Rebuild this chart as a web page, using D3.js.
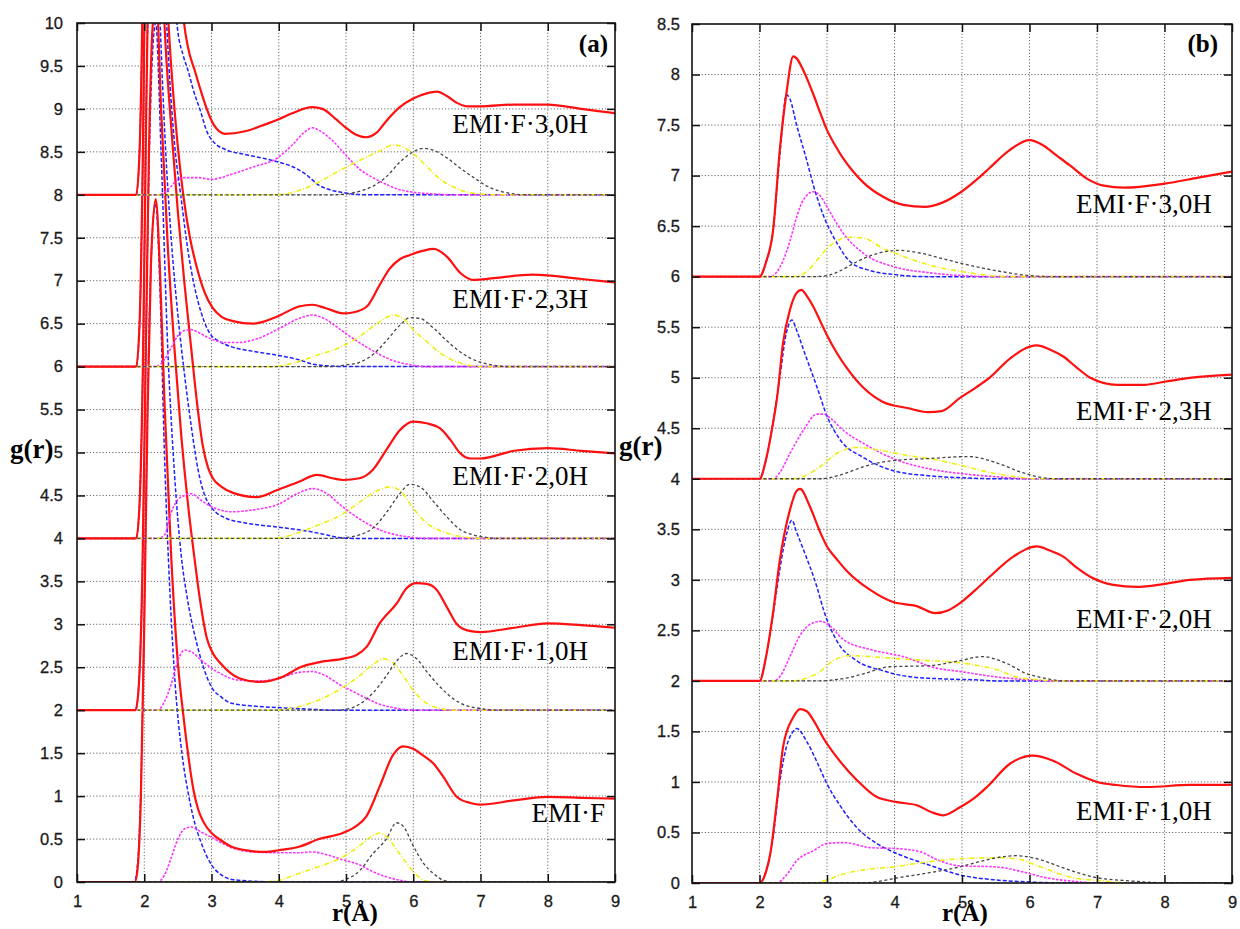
<!DOCTYPE html>
<html><head><meta charset="utf-8">
<script src="https://cdn.jsdelivr.net/npm/d3@7"></script>
<style>body{margin:0;background:#fff;}svg{display:block;}</style>
</head><body>
<svg id="c" width="1240" height="929"></svg>
<script>
// ---------------- DATA ----------------
const rTicks = [1,2,3,4,5,6,7,8,9];
const yTicksA = [0,0.5,1,1.5,2,2.5,3,3.5,4,4.5,5,5.5,6,6.5,7,7.5,8,8.5,9,9.5,10];
const yTicksB = [0,0.5,1,1.5,2,2.5,3,3.5,4,4.5,5,5.5,6,6.5,7,7.5,8,8.5];

// panel (a): index 0..4 = EMI·F, 1,0H, 2,0H, 2,3H, 3,0H
const namesA = ["EMI·F","EMI·F·1,0H","EMI·F·2,0H","EMI·F·2,3H","EMI·F·3,0H"];
const offsetsA = [0,2,4,6,8];
// panel (b): index 0..3 = 1,0H, 2,0H, 2,3H, 3,0H
const namesB = ["EMI·F·1,0H","EMI·F·2,0H","EMI·F·2,3H","EMI·F·3,0H"];
const offsetsB = [0,2,4,6];

const redA = [
 [[1,0],[1.86,0],[1.9,0.15],[1.95,1.0],[2.0,3.0],[2.05,5.5],[2.1,7.2],[2.17,7.95],[2.23,7.2],[2.3,5.6],[2.4,3.8],[2.5,2.55],[2.58,1.95],[2.65,1.5],[2.73,1.08],[2.8,0.85],[2.88,0.7],[3.0,0.57],[3.15,0.48],[3.3,0.41],[3.6,0.36],[3.8,0.35],[4.0,0.37],[4.3,0.41],[4.6,0.5],[4.95,0.57],[5.15,0.65],[5.3,0.76],[5.5,1.11],[5.7,1.48],[5.85,1.58],[6.0,1.55],[6.15,1.47],[6.3,1.38],[6.45,1.22],[6.65,0.99],[6.85,0.92],[7.0,0.9],[7.5,0.95],[8.0,0.99],[8.5,0.98],[9.0,0.97]],
 [[1,0],[1.87,0],[1.92,0.3],[1.97,1.5],[2.02,4.0],[2.07,6.5],[2.12,7.9],[2.18,8.3],[2.25,7.0],[2.35,5.4],[2.45,4.2],[2.55,3.2],[2.65,2.4],[2.75,1.75],[2.83,1.28],[2.93,0.84],[3.03,0.65],[3.13,0.55],[3.42,0.37],[3.72,0.33],[4.06,0.39],[4.32,0.5],[4.61,0.56],[4.96,0.6],[5.15,0.64],[5.31,0.74],[5.5,1.01],[5.76,1.25],[5.9,1.42],[6.05,1.48],[6.2,1.47],[6.35,1.4],[6.5,1.2],[6.65,1.0],[6.8,0.93],[7.0,0.91],[7.5,0.96],[8.0,1.01],[8.5,0.99],[9.0,0.96]],
 [[1,0],[1.88,0],[1.93,0.4],[1.98,2.0],[2.03,5.0],[2.08,7.5],[2.14,8.8],[2.2,8.2],[2.3,6.0],[2.4,4.8],[2.5,3.8],[2.6,2.95],[2.7,2.2],[2.78,1.61],[2.87,1.08],[2.95,0.82],[3.02,0.7],[3.15,0.6],[3.32,0.53],[3.67,0.48],[3.97,0.56],[4.3,0.66],[4.57,0.74],[4.8,0.7],[4.96,0.68],[5.2,0.7],[5.4,0.8],[5.6,1.03],[5.8,1.26],[6.0,1.36],[6.2,1.34],[6.4,1.28],[6.55,1.15],[6.7,0.99],[6.85,0.93],[7.0,0.93],[7.5,1.02],[8.0,1.05],[8.5,1.02],[9.0,0.99]],
 [[1,0],[1.88,0],[1.93,0.5],[1.98,2.5],[2.03,6.0],[2.08,9.0],[2.14,10.3],[2.2,9.6],[2.3,5.0],[2.36,4.0],[2.46,2.9],[2.58,2.0],[2.68,1.5],[2.78,1.16],[2.9,0.86],[3.02,0.68],[3.15,0.58],[3.32,0.53],[3.62,0.5],[3.97,0.58],[4.3,0.7],[4.5,0.72],[4.7,0.68],[4.96,0.62],[5.1,0.63],[5.31,0.7],[5.5,0.95],[5.65,1.14],[5.8,1.25],[5.95,1.3],[6.15,1.35],[6.3,1.37],[6.5,1.28],[6.7,1.09],[6.89,1.01],[7.2,1.03],[7.78,1.07],[8.5,1.02],[9.0,0.98]],
 [[1,0],[1.88,0],[1.93,0.5],[1.98,2.5],[2.03,6.0],[2.08,9.5],[2.15,11.5],[2.25,10.5],[2.35,7.0],[2.45,4.2],[2.52,2.9],[2.58,2.1],[2.65,1.72],[2.75,1.45],[2.83,1.24],[2.93,1.0],[3.03,0.82],[3.2,0.71],[3.5,0.74],[3.8,0.82],[4.0,0.88],[4.2,0.95],[4.5,1.02],[4.65,1.0],[4.85,0.88],[5.0,0.78],[5.15,0.7],[5.3,0.67],[5.45,0.72],[5.6,0.86],[5.8,1.02],[6.0,1.12],[6.2,1.18],[6.35,1.2],[6.5,1.15],[6.65,1.07],[6.8,1.03],[7.0,1.03],[7.5,1.05],[8.0,1.05],[8.5,1.0],[9.0,0.95]]
];
const blueA = [
 [[1,0],[1.85,0],[1.9,0.2],[1.95,1.1],[2.0,3.1],[2.05,5.6],[2.1,7.2],[2.17,7.9],[2.23,7.0],[2.3,5.0],[2.38,3.4],[2.46,2.3],[2.56,1.5],[2.65,1.05],[2.73,0.75],[2.85,0.45],[3.0,0.2],[3.15,0.08],[3.3,0.03],[3.6,0.01],[4.0,0],[9,0]],
 [[1,0],[1.87,0],[1.92,0.3],[1.97,1.5],[2.02,4.0],[2.07,6.3],[2.12,7.6],[2.17,8.0],[2.25,6.5],[2.35,4.2],[2.45,2.75],[2.55,1.8],[2.63,1.35],[2.7,1.05],[2.78,0.78],[2.88,0.5],[3.0,0.27],[3.15,0.15],[3.3,0.08],[3.6,0.05],[4.0,0.03],[4.5,0.01],[4.8,0],[9,0]],
 [[1,0],[1.88,0],[1.93,0.4],[1.98,2.0],[2.03,5.0],[2.08,7.3],[2.13,8.5],[2.2,6.8],[2.3,4.8],[2.4,3.5],[2.5,2.6],[2.6,1.9],[2.7,1.3],[2.8,0.8],[2.9,0.5],[3.0,0.36],[3.2,0.24],[3.5,0.18],[4.0,0.13],[4.3,0.1],[4.6,0.06],[4.9,0.01],[5.1,0],[9,0]],
 [[1,0],[1.88,0],[1.93,0.5],[1.98,2.5],[2.03,6.0],[2.08,8.6],[2.14,9.8],[2.2,7.5],[2.28,5.0],[2.36,3.6],[2.45,2.6],[2.55,1.95],[2.65,1.35],[2.75,0.92],[2.85,0.62],[2.98,0.38],[3.1,0.3],[3.3,0.23],[3.6,0.18],[4.0,0.13],[4.3,0.08],[4.5,0.03],[4.7,0.01],[5.0,0],[9,0]],
 [[1,0],[1.88,0],[1.93,0.5],[1.98,2.5],[2.03,6.0],[2.08,9.2],[2.15,11.0],[2.23,9.0],[2.3,6.0],[2.38,3.6],[2.44,2.4],[2.5,1.9],[2.58,1.62],[2.65,1.45],[2.73,1.22],[2.83,0.99],[2.93,0.74],[3.05,0.6],[3.2,0.53],[3.5,0.47],[3.8,0.42],[4.0,0.38],[4.2,0.33],[4.4,0.24],[4.6,0.11],[4.8,0.05],[5.0,0.02],[5.3,0],[9,0]]
];
const magentaA = [
 [[1,0],[2.2,0],[2.3,0.08],[2.4,0.28],[2.5,0.5],[2.6,0.62],[2.7,0.64],[2.85,0.58],[3.0,0.52],[3.3,0.4],[3.6,0.35],[4.0,0.34],[4.3,0.34],[4.5,0.35],[4.7,0.32],[4.95,0.26],[5.2,0.2],[5.4,0.12],[5.6,0.06],[5.8,0.02],[6.0,0],[9,0]],
 [[1,0],[2.2,0],[2.3,0.1],[2.4,0.3],[2.5,0.58],[2.6,0.7],[2.7,0.68],[2.85,0.58],[3.1,0.44],[3.4,0.35],[3.7,0.34],[4.0,0.37],[4.3,0.44],[4.5,0.45],[4.7,0.4],[4.9,0.3],[5.1,0.22],[5.3,0.14],[5.5,0.07],[5.7,0.03],[6.0,0],[9,0]],
 [[1,0],[2.2,0],[2.3,0.04],[2.4,0.3],[2.5,0.45],[2.6,0.5],[2.7,0.52],[2.85,0.44],[3.0,0.37],[3.3,0.31],[3.6,0.33],[4.0,0.4],[4.3,0.53],[4.5,0.58],[4.7,0.53],[4.9,0.4],[5.1,0.28],[5.3,0.18],[5.5,0.1],[5.7,0.05],[5.9,0.02],[6.2,0],[9,0]],
 [[1,0],[2.1,0],[2.2,0.01],[2.3,0.08],[2.4,0.22],[2.5,0.36],[2.6,0.42],[2.7,0.43],[2.8,0.4],[3.0,0.32],[3.2,0.28],[3.4,0.28],[3.7,0.33],[4.0,0.44],[4.3,0.56],[4.5,0.6],[4.7,0.55],[4.9,0.44],[5.1,0.33],[5.3,0.23],[5.5,0.14],[5.7,0.07],[5.9,0.03],[6.2,0],[9,0]],
 [[1,0],[2.2,0],[2.3,0.03],[2.4,0.1],[2.5,0.18],[2.6,0.2],[2.8,0.2],[3.0,0.18],[3.3,0.24],[3.6,0.32],[4.0,0.44],[4.2,0.58],[4.4,0.74],[4.5,0.78],[4.6,0.75],[4.8,0.63],[5.0,0.46],[5.2,0.3],[5.4,0.2],[5.6,0.12],[5.8,0.06],[6.0,0.03],[6.3,0.01],[6.6,0],[9,0]]
];
const yellowA = [
 [[1,0],[3.7,0],[4.0,0.02],[4.3,0.1],[4.6,0.18],[4.95,0.29],[5.2,0.42],[5.4,0.54],[5.5,0.57],[5.6,0.53],[5.75,0.38],[5.9,0.22],[6.05,0.08],[6.2,0.01],[6.4,0],[9,0]],
 [[1,0],[3.9,0],[4.1,0.01],[4.3,0.04],[4.6,0.12],[4.9,0.24],[5.2,0.4],[5.4,0.53],[5.55,0.6],[5.7,0.55],[5.85,0.4],[6.0,0.23],[6.2,0.08],[6.4,0.02],[6.6,0],[9,0]],
 [[1,0],[3.9,0],[4.1,0.02],[4.3,0.07],[4.6,0.16],[4.9,0.26],[5.2,0.42],[5.45,0.55],[5.65,0.6],[5.8,0.56],[6.0,0.35],[6.2,0.18],[6.4,0.09],[6.6,0.04],[6.8,0.01],[7.0,0],[9,0]],
 [[1,0],[3.9,0],[4.1,0.02],[4.3,0.06],[4.6,0.14],[4.9,0.22],[5.2,0.35],[5.5,0.52],[5.7,0.6],[5.85,0.56],[6.0,0.43],[6.2,0.29],[6.4,0.16],[6.6,0.07],[6.8,0.02],[7.0,0],[9,0]],
 [[1,0],[3.9,0],[4.1,0.01],[4.3,0.05],[4.6,0.15],[4.9,0.28],[5.2,0.4],[5.5,0.51],[5.7,0.58],[5.8,0.57],[6.0,0.48],[6.2,0.33],[6.4,0.18],[6.6,0.09],[6.8,0.03],[7.0,0.01],[7.2,0],[9,0]]
];
const blackA = [
 [[1,0],[4.8,0],[5.0,0.03],[5.2,0.13],[5.4,0.33],[5.6,0.5],[5.75,0.69],[5.85,0.65],[6.0,0.42],[6.15,0.22],[6.3,0.1],[6.45,0.02],[6.6,0],[9,0]],
 [[1,0],[4.8,0],[5.0,0.01],[5.2,0.07],[5.4,0.2],[5.6,0.4],[5.75,0.57],[5.9,0.66],[6.05,0.6],[6.2,0.45],[6.4,0.27],[6.6,0.13],[6.8,0.05],[7.0,0.02],[7.2,0],[9,0]],
 [[1,0],[4.8,0],[5.0,0.01],[5.2,0.04],[5.4,0.12],[5.6,0.3],[5.8,0.52],[5.95,0.63],[6.1,0.6],[6.3,0.43],[6.5,0.25],[6.7,0.1],[6.9,0.04],[7.1,0.01],[7.3,0],[9,0]],
 [[1,0],[4.8,0],[5.0,0.02],[5.2,0.05],[5.4,0.14],[5.6,0.3],[5.8,0.48],[5.95,0.57],[6.1,0.56],[6.3,0.45],[6.5,0.3],[6.7,0.17],[6.9,0.08],[7.1,0.03],[7.4,0],[9,0]],
 [[1,0],[4.8,0],[5.0,0.01],[5.2,0.04],[5.4,0.1],[5.6,0.21],[5.8,0.38],[6.0,0.5],[6.15,0.54],[6.3,0.52],[6.5,0.43],[6.7,0.31],[6.9,0.2],[7.1,0.1],[7.3,0.04],[7.5,0.01],[7.7,0],[9,0]]
];

const redB = [
 [[1,0],[2.0,0],[2.1,0.12],[2.16,0.29],[2.26,0.82],[2.35,1.35],[2.5,1.64],[2.6,1.72],[2.7,1.7],[2.8,1.61],[2.95,1.43],[3.15,1.24],[3.44,1.02],[3.74,0.85],[4.04,0.8],[4.33,0.77],[4.55,0.7],[4.72,0.67],[4.97,0.75],[5.2,0.85],[5.37,0.95],[5.71,1.18],[6.05,1.26],[6.35,1.21],[6.7,1.08],[7.0,1.0],[7.29,0.97],[7.74,0.95],[8.38,0.97],[9.0,0.97]],
 [[1,0],[2.0,0],[2.1,0.25],[2.2,0.67],[2.3,1.19],[2.45,1.69],[2.55,1.88],[2.6,1.9],[2.75,1.72],[2.9,1.47],[3.0,1.33],[3.15,1.2],[3.29,1.09],[3.64,0.9],[3.98,0.78],[4.33,0.74],[4.6,0.67],[4.8,0.7],[4.97,0.77],[5.2,0.9],[5.41,1.03],[5.76,1.23],[6.11,1.33],[6.3,1.29],[6.5,1.23],[6.7,1.12],[6.9,1.03],[7.24,0.95],[7.59,0.93],[8.0,0.96],[8.38,1.0],[9.0,1.02]],
 [[1,0],[2.0,0],[2.1,0.2],[2.2,0.55],[2.26,0.8],[2.35,1.35],[2.45,1.67],[2.55,1.84],[2.62,1.87],[2.7,1.81],[2.8,1.7],[2.9,1.56],[3.0,1.42],[3.15,1.24],[3.29,1.1],[3.54,0.9],[3.83,0.76],[4.19,0.7],[4.5,0.66],[4.7,0.67],[4.97,0.8],[5.2,0.9],[5.41,1.0],[5.71,1.19],[6.11,1.32],[6.3,1.28],[6.5,1.21],[6.7,1.1],[6.9,1.0],[7.3,0.93],[7.7,0.93],[8.0,0.96],[8.4,1.0],[9.0,1.03]],
 [[1,0],[2.0,0],[2.1,0.15],[2.2,0.45],[2.3,1.25],[2.4,1.82],[2.5,2.18],[2.55,2.16],[2.65,2.04],[2.8,1.8],[2.9,1.62],[3.0,1.45],[3.12,1.3],[3.24,1.17],[3.4,1.03],[3.54,0.93],[3.83,0.79],[4.13,0.71],[4.45,0.69],[4.7,0.73],[4.97,0.83],[5.2,0.95],[5.4,1.07],[5.7,1.25],[6.0,1.35],[6.2,1.3],[6.4,1.2],[6.6,1.1],[6.85,0.97],[7.1,0.9],[7.4,0.88],[8.0,0.92],[8.5,0.98],[9.0,1.04]]
];
const blueB = [
 [[1,0],[2.0,0],[2.1,0.12],[2.2,0.45],[2.3,1.0],[2.4,1.35],[2.5,1.5],[2.55,1.53],[2.7,1.4],[2.85,1.2],[3.0,0.98],[3.19,0.77],[3.44,0.55],[3.74,0.39],[4.04,0.29],[4.5,0.18],[4.97,0.08],[5.5,0.03],[6.0,0.01],[6.5,0],[9,0]],
 [[1,0],[2.0,0],[2.1,0.25],[2.2,0.65],[2.3,1.1],[2.4,1.45],[2.48,1.59],[2.55,1.47],[2.65,1.3],[2.85,0.93],[2.95,0.7],[3.15,0.39],[3.44,0.2],[3.83,0.1],[4.23,0.04],[4.7,0.02],[5.2,0.01],[5.5,0],[9,0]],
 [[1,0],[2.0,0],[2.1,0.2],[2.2,0.55],[2.3,1.0],[2.4,1.45],[2.48,1.57],[2.55,1.47],[2.65,1.28],[2.85,0.91],[3.0,0.62],[3.19,0.39],[3.54,0.21],[3.98,0.08],[4.5,0.03],[5.0,0.01],[5.5,0],[9,0]],
 [[1,0],[2.0,0],[2.1,0.15],[2.2,0.45],[2.3,1.2],[2.4,1.8],[2.45,1.76],[2.55,1.5],[2.7,1.15],[2.8,0.9],[2.95,0.6],[3.15,0.33],[3.34,0.15],[3.64,0.06],[4.0,0.02],[4.5,0],[9,0]]
];
const magentaB = [
 [[1,0],[2.25,0],[2.4,0.08],[2.55,0.22],[2.8,0.32],[3.0,0.39],[3.25,0.4],[3.64,0.35],[4.04,0.34],[4.38,0.31],[4.6,0.24],[4.97,0.17],[5.5,0.16],[5.9,0.11],[6.26,0.05],[6.6,0.02],[7.0,0],[9,0]],
 [[1,0],[2.2,0],[2.3,0.04],[2.45,0.24],[2.6,0.45],[2.75,0.56],[2.9,0.59],[3.05,0.54],[3.24,0.41],[3.64,0.31],[4.13,0.24],[4.6,0.13],[5.0,0.09],[5.5,0.04],[6.0,0.01],[6.3,0],[9,0]],
 [[1,0],[2.2,0],[2.3,0.06],[2.45,0.25],[2.65,0.48],[2.85,0.64],[2.95,0.64],[3.05,0.6],[3.24,0.48],[3.54,0.35],[3.98,0.2],[4.5,0.1],[5.0,0.05],[5.5,0.02],[6.0,0],[9,0]],
 [[1,0],[2.15,0],[2.25,0.04],[2.35,0.16],[2.45,0.35],[2.55,0.59],[2.65,0.76],[2.8,0.84],[2.9,0.8],[3.0,0.69],[3.24,0.43],[3.54,0.23],[3.98,0.1],[4.5,0.04],[5.0,0.01],[5.5,0],[9,0]]
];
const yellowB = [
 [[1,0],[2.8,0],[3.0,0.03],[3.2,0.08],[3.54,0.13],[3.98,0.16],[4.5,0.21],[4.97,0.24],[5.5,0.25],[5.8,0.24],[6.16,0.16],[6.6,0.06],[7.1,0.02],[7.5,0],[9,0]],
 [[1,0],[2.5,0],[2.7,0.03],[2.85,0.07],[3.09,0.2],[3.34,0.25],[3.64,0.24],[4.04,0.22],[4.5,0.2],[4.97,0.18],[5.25,0.15],[5.52,0.11],[5.8,0.04],[6.15,0.01],[6.4,0],[9,0]],
 [[1,0],[2.5,0],[2.7,0.04],[2.9,0.12],[3.14,0.25],[3.44,0.31],[3.8,0.28],[4.2,0.23],[4.6,0.19],[5.0,0.13],[5.5,0.05],[5.8,0.02],[6.1,0],[9,0]],
 [[1,0],[2.5,0],[2.7,0.05],[2.85,0.16],[3.0,0.28],[3.2,0.37],[3.35,0.39],[3.55,0.38],[3.83,0.28],[4.13,0.2],[4.6,0.1],[5.0,0.05],[5.3,0.02],[5.6,0],[9,0]]
];
const blackB = [
 [[1,0],[3.5,0],[3.8,0.02],[4.04,0.05],[4.5,0.1],[4.97,0.16],[5.31,0.22],[5.6,0.26],[5.8,0.27],[6.11,0.24],[6.5,0.15],[6.94,0.06],[7.5,0.02],[8.1,0],[9,0]],
 [[1,0],[2.9,0],[3.1,0.01],[3.3,0.03],[3.54,0.07],[3.93,0.14],[4.5,0.15],[4.97,0.2],[5.3,0.24],[5.67,0.17],[5.96,0.07],[6.2,0.03],[6.5,0],[9,0]],
 [[1,0],[2.9,0],[3.1,0.02],[3.3,0.06],[3.54,0.12],[3.98,0.18],[4.5,0.2],[5.1,0.22],[5.5,0.16],[5.9,0.06],[6.2,0.01],[6.4,0],[9,0]],
 [[1,0],[2.8,0],[3.0,0.01],[3.2,0.06],[3.45,0.15],[3.75,0.23],[4.05,0.26],[4.4,0.23],[4.7,0.18],[5.0,0.13],[5.5,0.06],[6.0,0.01],[6.3,0],[9,0]]
];

// ---------------- DRAWING ----------------
const svg = d3.select("#c");
svg.append("rect").attr("width",1240).attr("height",929).attr("fill","#fff");
const defs = svg.append("defs");

const styles = [
  {key:"blue",    color:"#2020ff", dash:"4,2",     w:1.5},
  {key:"magenta", color:"#ff30ff", dash:"2.5,1.5", w:1.6},
  {key:"yellow",  color:"#eeee10", dash:"5,2,1,2", w:1.6},
  {key:"black",   color:"#444444", dash:"3,2.5",   w:1.3},
  {key:"red",     color:"#ff1010", dash:null,      w:2.2}
];

function drawPanel(p) {
  const x = d3.scaleLinear().domain([1,9]).range([p.left, p.right]);
  const y = d3.scaleLinear().domain([0, p.ymax]).range([p.bottom, p.top]);
  const g = svg.append("g");

  // grid
  const grid = g.append("g").attr("stroke","#6a6a6a").attr("stroke-width",1).attr("stroke-dasharray","1.2,2");
  grid.selectAll(".gv").data(rTicks.slice(1,-1)).join("line")
    .attr("x1",d=>x(d)).attr("x2",d=>x(d)).attr("y1",p.top).attr("y2",p.bottom);
  grid.selectAll(".gh").data(p.yTicks.slice(1,-1)).join("line")
    .attr("y1",d=>y(d)).attr("y2",d=>y(d)).attr("x1",p.left).attr("x2",p.right);

  // curves
  defs.append("clipPath").attr("id","clip"+p.id).append("rect")
    .attr("x",p.left).attr("y",p.top).attr("width",p.right-p.left).attr("height",p.bottom-p.top);
  const cg = g.append("g").attr("clip-path","url(#clip"+p.id+")");
  p.offsets.forEach((off,i)=>{
    const line = d3.line().x(d=>x(d[0])).y(d=>y(d[1]+off)).curve(d3.curveMonotoneX);
    styles.forEach(s=>{
      cg.append("path").datum(p.series[s.key][i])
        .attr("d",line).attr("fill","none")
        .attr("stroke",s.color).attr("stroke-width",s.w)
        .attr("stroke-dasharray",s.dash)
        .attr("stroke-linejoin","round");
    });
  });

  // axes
  const fontAxis = "'Liberation Sans', Arial, sans-serif";
  const bx = g.append("g").attr("transform",`translate(0,${p.bottom})`)
    .call(d3.axisBottom(x).tickValues(rTicks).tickSize(-8).tickPadding(p.xPad));
  const ly = g.append("g").attr("transform",`translate(${p.left},0)`)
    .call(d3.axisLeft(y).tickValues(p.yTicks).tickSize(-8).tickPadding(p.yPad).tickFormat(d3.format("")));
  const tx = g.append("g").attr("transform",`translate(0,${p.top})`)
    .call(d3.axisTop(x).tickValues(rTicks).tickSize(-8).tickFormat(""));
  const ry = g.append("g").attr("transform",`translate(${p.right},0)`)
    .call(d3.axisRight(y).tickValues(p.yTicks).tickSize(-8).tickFormat(""));
  [bx,ly,tx,ry].forEach(a=>{
    a.select(".domain").remove();
    a.selectAll(".tick line").attr("stroke","#111").attr("stroke-width",1.5);
    a.selectAll("text").attr("font-family",fontAxis).attr("font-size",16.5)
      .attr("fill","#1a1a1a").attr("stroke","#1a1a1a").attr("stroke-width",0.3);
  });

  // frame
  g.append("rect").attr("x",p.left).attr("y",p.top).attr("width",p.right-p.left).attr("height",p.bottom-p.top)
    .attr("fill","none").attr("stroke","#111").attr("stroke-width",1.6);

  // curve labels
  p.names.forEach((n,i)=>{
    g.append("text").attr("x",x(p.labelR[i])).attr("y",y(p.labelY[i]))
      .attr("text-anchor","end").attr("font-family","'Liberation Serif', 'Times New Roman', serif")
      .attr("font-size",27).attr("fill","#000").text(n);
  });

  // panel tag
  g.append("text").attr("x",p.tagX).attr("y",52).attr("text-anchor","end")
    .attr("font-family","'Liberation Serif', serif").attr("font-weight","bold").attr("font-size",25).text(p.tag);
  // axis titles
  g.append("text").attr("x",p.gX).attr("y",p.gY)
    .attr("font-family","'Liberation Serif', serif").attr("font-weight","bold").attr("font-size",27).text("g(r)");
  g.append("text").attr("x",p.rX).attr("y",921)
    .attr("font-family","'Liberation Serif', serif").attr("font-weight","bold").attr("font-size",25).text("r(Å)");
}

drawPanel({
  id:"A", left:77, right:615, top:23, bottom:882, ymax:10, yTicks:yTicksA,
  offsets:offsetsA, names:namesA,
  series:{red:redA, blue:blueA, magenta:magentaA, yellow:yellowA, black:blackA},
  labelR:[8.85,8.6,8.6,8.6,8.6], labelY:[0.70,2.58,4.62,6.68,8.72],
  xPad:13, yPad:14, tag:"(a)", tagX:608, gX:10, gY:458, rX:332
});
drawPanel({
  id:"B", left:692, right:1232, top:24, bottom:883, ymax:8.5, yTicks:yTicksB,
  offsets:offsetsB, names:namesB,
  series:{red:redB, blue:blueB, magenta:magentaB, yellow:yellowB, black:blackB},
  labelR:[8.7,8.7,8.7,8.7], labelY:[0.62,2.52,4.58,6.63],
  xPad:13, yPad:12, tag:"(b)", tagX:1218, gX:619, gY:455, rX:942
});
</script>
</body></html>
